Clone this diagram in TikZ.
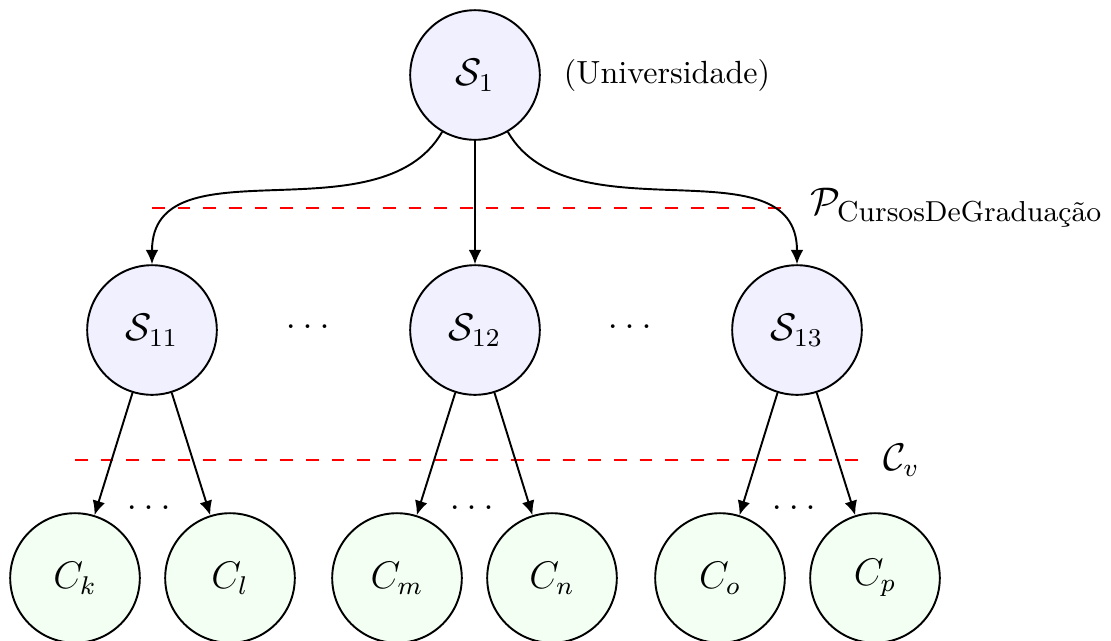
\documentclass[tikz,border=0pt]{standalone}
\usepackage{amsmath}
\usepackage{amssymb}
\usepackage{xcolor}
\usepackage{tikz}
\usetikzlibrary{arrows.meta,positioning}
\tikzset{
  snode/.style={
    circle, draw=black, semithick, fill=blue!6,
    minimum size=1.42cm, inner sep=0pt, font=\large
  },
  cnode/.style={snode, fill=green!5},
  dotsnode/.style={font=\large},
  treearrow/.style={-{Latex[length=4.5pt,width=4pt]}, semithick},
  levelline/.style={draw=red, semithick, dash pattern=on 4pt off 4pt},
}

\begin{document}
\begin{tikzpicture}[x=0.01095cm, y=-0.01095cm]
  \useasboundingbox (0,0) rectangle (1111,640);
  % level lines
  \coordinate (pa) at (152,208); \coordinate (pb) at (790,208);
  \coordinate (ca) at (75,460); \coordinate (cb) at (863,460);
  \draw[levelline] (pa)--(pb);
  \draw[levelline] (ca)--(cb);
  \node (plabel) [right=0.1cm of pb, font=\large] {$\mathcal{P}_{\text{\small CursosDeGradua\c{c}\~{a}o}}$};
  \node (clabel) [right=0.1cm of cb, font=\large] {$\mathcal{C}_v$};
  % nodes
  \node (s1) [snode] at (475,75) {$\mathcal{S}_1$};
  \node (univ) [right=0.13cm of s1] {(Universidade)};
  \node (s11) [snode] at (152,330) {$\mathcal{S}_{11}$};
  \node (s12) [snode] at (475,330) {$\mathcal{S}_{12}$};
  \node (s13) [snode] at (797,330) {$\mathcal{S}_{13}$};
  \node (da) [dotsnode] at (311,327) {$\dots$};
  \node (db) [dotsnode] at (633,327) {$\dots$};
  \node (ck) [cnode] at (75,578) {$C_k$};
  \node (cl) [cnode] at (230,578) {$C_l$};
  \node (cm) [cnode] at (397,578) {$C_m$};
  \node (cn) [cnode] at (552,578) {$C_n$};
  \node (co) [cnode] at (720,578) {$C_o$};
  \node (cp) [cnode] at (875,578) {$C_p$};
  \node (dc) [dotsnode] at (152,508) {$\dots$};
  \node (dd) [dotsnode] at (475,508) {$\dots$};
  \node (de) [dotsnode] at (797,508) {$\dots$};
  % arrows
  \draw[treearrow] (s1) to[out=-120,in=90] (s11);
  \draw[treearrow] (s1)--(s12);
  \draw[treearrow] (s1) to[out=-60,in=90] (s13);
  \draw[treearrow] (s11)--(ck); \draw[treearrow] (s11)--(cl);
  \draw[treearrow] (s12)--(cm); \draw[treearrow] (s12)--(cn);
  \draw[treearrow] (s13)--(co); \draw[treearrow] (s13)--(cp);
\end{tikzpicture}
\end{document}
